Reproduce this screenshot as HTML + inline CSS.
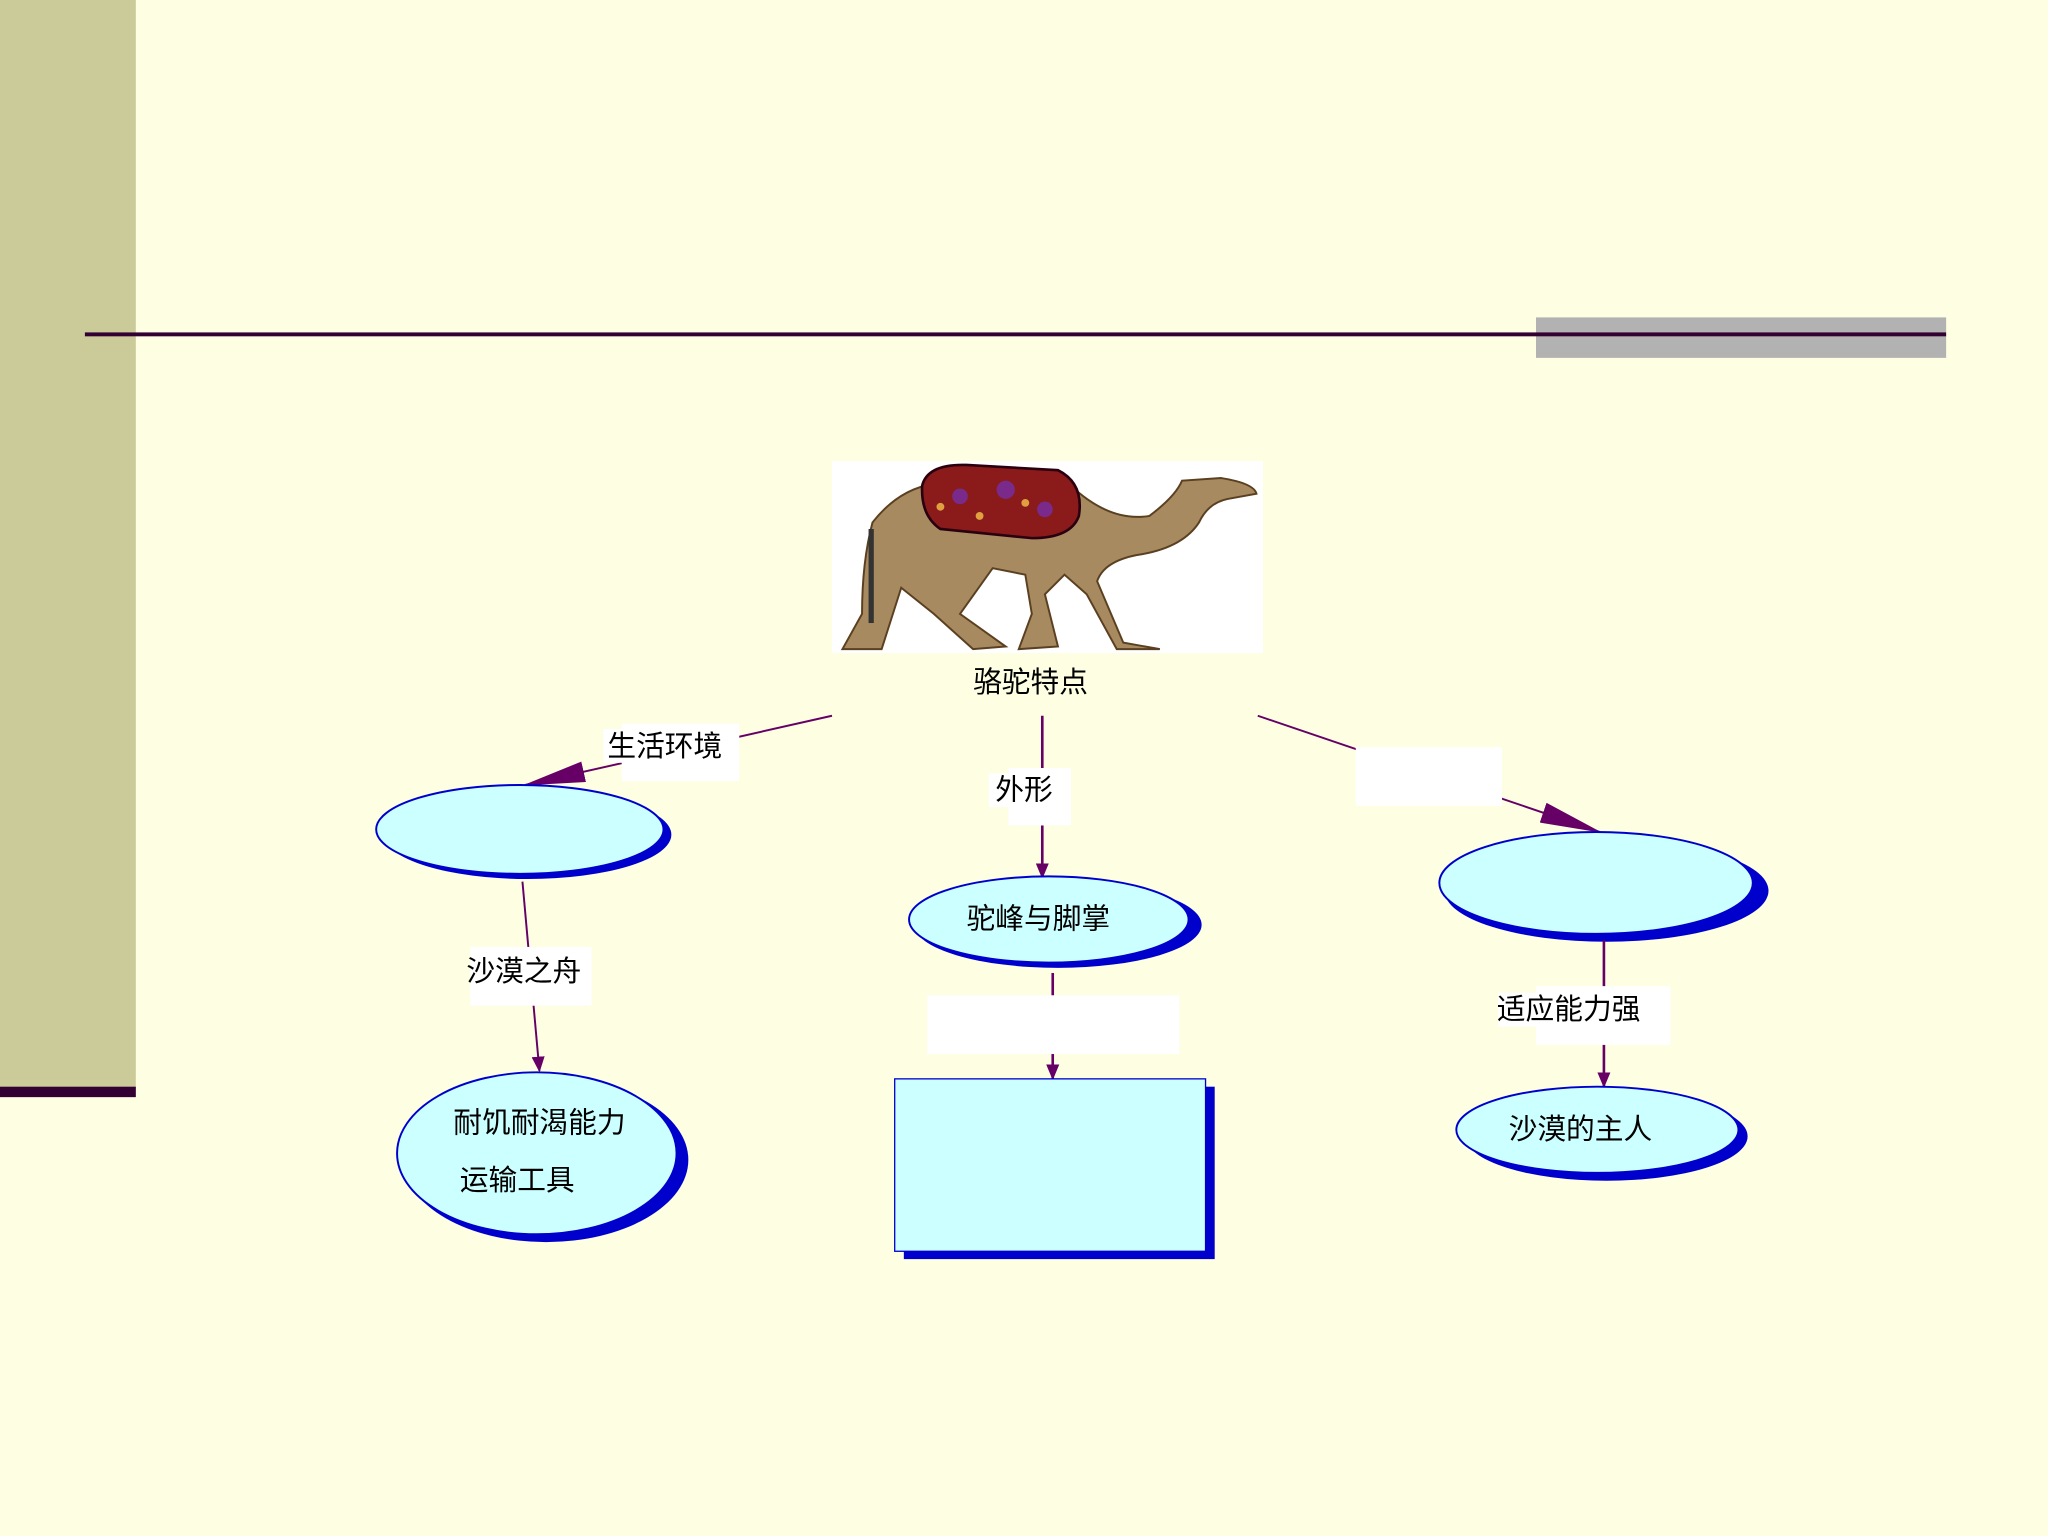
<!DOCTYPE html>
<html><head><meta charset="utf-8">
<style>
html,body{margin:0;padding:0;background:#FEFEE2;}
svg{display:block;}
text{font-family:"Liberation Sans","Noto Sans CJK SC",sans-serif;fill:#000;}
</style></head>
<body>
<svg width="2048" height="1536" viewBox="0 0 1568 1176" xmlns="http://www.w3.org/2000/svg">
<defs>
<marker id="ah" markerWidth="12" markerHeight="10" refX="11" refY="5" orient="auto" markerUnits="userSpaceOnUse">
<path d="M0,0 L12,5 L0,10 Z" fill="#660066"/>
</marker>
<marker id="ahw" markerWidth="48" markerHeight="16" refX="46" refY="8" orient="auto" markerUnits="userSpaceOnUse">
<path d="M0,0 L48,8 L0,16 Z" fill="#660066"/>
</marker>
</defs>
<rect width="1568" height="1176" fill="#FEFEE2"/>
<rect x="0" y="0" width="104" height="834" fill="#CBCB9A"/>
<rect x="0" y="832" width="104" height="8" fill="#330033"/>
<rect x="1176" y="243" width="314" height="31" fill="#B2B2B2"/>
<rect x="65" y="254.5" width="1425" height="3" fill="#330033"/>

<!-- camel -->
<rect x="637" y="353" width="330" height="147" fill="#fff"/>
<g>
<path d="M668,400 Q690,372 720,370 L820,372 Q850,400 880,395 Q900,380 905,368 L935,366 Q960,370 962,378 L940,382 Q925,385 918,400 Q905,420 870,425 Q845,430 840,445 L860,492 L888,497 L855,497 L832,455 L815,440 L800,455 L810,495 L780,497 L790,470 L785,440 L760,435 L735,470 L770,495 L745,497 L715,470 L690,450 L675,497 L645,497 L660,470 Q660,430 668,400 Z" fill="#A88A60" stroke="#5a4020" stroke-width="1.5"/>
<path d="M706,372 Q710,355 740,356 L810,360 Q830,370 826,395 Q820,412 790,412 L720,405 Q705,395 706,372 Z" fill="#8B1A1A" stroke="#2a0010" stroke-width="2"/>
<circle cx="735" cy="380" r="6" fill="#7a2a8a"/><circle cx="770" cy="375" r="7" fill="#7a2a8a"/><circle cx="800" cy="390" r="6" fill="#7a2a8a"/>
<circle cx="750" cy="395" r="3" fill="#e0a040"/><circle cx="785" cy="385" r="3" fill="#e0a040"/><circle cx="720" cy="388" r="3" fill="#e0a040"/>
<rect x="665" y="405" width="4" height="72" fill="#333"/>
</g>
<text x="789" y="530" font-size="22" text-anchor="middle">骆驼特点</text>

<!-- connectors -->
<line x1="637" y1="548" x2="402" y2="601" stroke="#660066" stroke-width="1.5" marker-end="url(#ahw)"/>
<rect x="476" y="554" width="90" height="44" fill="#fff"/>
<rect x="462" y="558" width="94" height="26" fill="#fff"/>
<text x="509" y="579" font-size="22" text-anchor="middle">生活环境</text>

<line x1="798" y1="548" x2="798" y2="672" stroke="#660066" stroke-width="2" marker-end="url(#ah)"/>
<rect x="772" y="588" width="48" height="44" fill="#fff"/>
<rect x="757" y="592" width="56" height="26" fill="#fff"/>
<text x="784" y="612" font-size="22" text-anchor="middle">外形</text>

<line x1="963" y1="548" x2="1225" y2="637" stroke="#660066" stroke-width="1.5" marker-end="url(#ahw)"/>
<rect x="1038" y="572" width="112" height="45" fill="#fff"/>

<!-- ellipse 1 -->
<ellipse cx="404" cy="639" rx="110" ry="34" fill="#0000CC"/>
<ellipse cx="398" cy="635" rx="110" ry="34" fill="#CCFFFF" stroke="#0000CC" stroke-width="1.5"/>

<line x1="400" y1="675" x2="413" y2="820" stroke="#660066" stroke-width="1.5" marker-end="url(#ah)"/>
<rect x="360" y="725" width="93" height="45" fill="#fff"/>
<text x="401" y="751" font-size="22" text-anchor="middle">沙漠之舟</text>

<ellipse cx="418" cy="888" rx="109" ry="63" fill="#0000CC"/>
<ellipse cx="411" cy="883" rx="107" ry="62" fill="#CCFFFF" stroke="#0000CC" stroke-width="1.5"/>
<text x="413" y="867" font-size="22" text-anchor="middle">耐饥耐渴能力</text>
<text x="396" y="911" font-size="22" text-anchor="middle">运输工具</text>

<!-- ellipse 2 -->
<ellipse cx="810" cy="708" rx="110" ry="33" fill="#0000CC"/>
<ellipse cx="803" cy="704" rx="107" ry="33" fill="#CCFFFF" stroke="#0000CC" stroke-width="1.5"/>
<text x="795" y="711" font-size="22" text-anchor="middle">驼峰与脚掌</text>

<line x1="806" y1="745" x2="806" y2="826" stroke="#660066" stroke-width="2" marker-end="url(#ah)"/>
<rect x="710" y="762" width="193" height="45" fill="#fff"/>

<rect x="692" y="832" width="238" height="132" fill="#0000CC"/>
<rect x="685" y="826" width="238" height="132" fill="#CCFFFF" stroke="#0000CC" stroke-width="1"/>

<!-- ellipse 3 -->
<ellipse cx="1230" cy="682" rx="124" ry="39" fill="#0000CC"/>
<ellipse cx="1222" cy="676" rx="120" ry="39" fill="#CCFFFF" stroke="#0000CC" stroke-width="1.5"/>

<line x1="1228" y1="720" x2="1228" y2="832" stroke="#660066" stroke-width="2" marker-end="url(#ah)"/>
<rect x="1176" y="755" width="103" height="45" fill="#fff"/>
<rect x="1147" y="760" width="110" height="26" fill="#fff"/>
<text x="1201" y="780" font-size="22" text-anchor="middle">适应能力强</text>

<ellipse cx="1230" cy="870" rx="108" ry="34" fill="#0000CC"/>
<ellipse cx="1223" cy="865" rx="108" ry="33" fill="#CCFFFF" stroke="#0000CC" stroke-width="1.5"/>
<text x="1210" y="872" font-size="22" text-anchor="middle">沙漠的主人</text>
</svg>
</body></html>
